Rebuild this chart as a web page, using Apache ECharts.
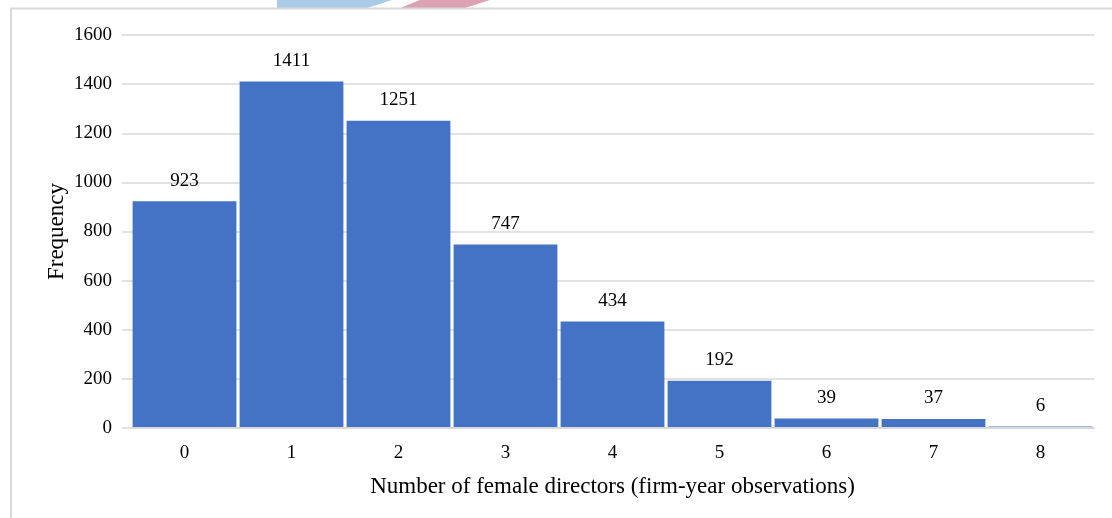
<!DOCTYPE html>
<html><head><meta charset="utf-8">
<script src="https://cdn.jsdelivr.net/npm/echarts@6/dist/echarts.min.js"></script>
<style>html,body{margin:0;padding:0;background:#fff}#c{width:1112px;height:518px}</style>
</head><body><div id="c"></div>
<script>
const categories = ['0','1','2','3','4','5','6','7','8'];
const frequency = [923, 1411, 1251, 747, 434, 192, 39, 37, 6];
const yTicks = [0, 200, 400, 600, 800, 1000, 1200, 1400, 1600];

const chart = echarts.init(document.getElementById('c'));
const font = '"Liberation Serif", "Times New Roman", serif';
chart.setOption({
  animation: false,
  textStyle: { fontFamily: font },
  graphic: [
    { type: 'polyline', shape: { points: [[11, 518], [11, 8.5], [1112, 8.5]] },
      style: { stroke: '#d9d9d9', lineWidth: 2, fill: null } },
    { type: 'polygon', shape: { points: [[277, 0], [392, 0], [367, 8], [277, 8]] },
      style: { fill: '#a9cbe8' }, z: -1 },
    { type: 'polygon', shape: { points: [[420, 0], [490, 0], [465, 8], [400, 8]] },
      style: { fill: '#dca2b3' }, z: -1 }
  ],
  grid: [
    { left: 131, right: 18, top: 35, bottom: 90 },
    { left: 122, right: 18, top: 35, bottom: 90 }
  ],
  xAxis: [{
    type: 'category', data: categories, gridIndex: 0, z: 5,
    name: 'Number of female directors (firm-year observations)',
    nameLocation: 'middle', nameGap: 47,
    nameTextStyle: { fontSize: 23, color: '#000', fontFamily: font },
    axisLine: { lineStyle: { color: '#d9d9d9', width: 2 } },
    axisTick: { show: false },
    axisLabel: { fontSize: 19, color: '#000', margin: 16, fontFamily: font }
  }, {
    type: 'value', gridIndex: 1, show: false
  }],
  yAxis: [{
    type: 'value', gridIndex: 0, min: 0, max: 1600, interval: 200,
    axisLine: { show: false }, axisTick: { show: false },
    axisLabel: { show: false }, splitLine: { show: false }
  }, {
    type: 'value', gridIndex: 1, min: 0, max: 1600, interval: 200,
    name: 'Frequency', nameLocation: 'middle', nameGap: 54, nameMoveOverlap: false,
    nameTextStyle: { fontSize: 23, color: '#000', fontFamily: font },
    axisLine: { show: false }, axisTick: { show: false },
    axisLabel: { fontSize: 19, color: '#000', margin: 10, fontFamily: font,
      formatter: v => yTicks.includes(v) ? String(v) : '' },
    splitLine: { lineStyle: { color: '#d9d9d9', width: 1.5 } }
  }],
  series: [{
    type: 'bar', data: frequency, xAxisIndex: 0, yAxisIndex: 0, barCategoryGap: '3%',
    itemStyle: { color: '#4472c4' },
    label: { show: true, position: 'top', distance: 11, fontSize: 19, color: '#000', fontFamily: font }
  }]
});
</script></body></html>
